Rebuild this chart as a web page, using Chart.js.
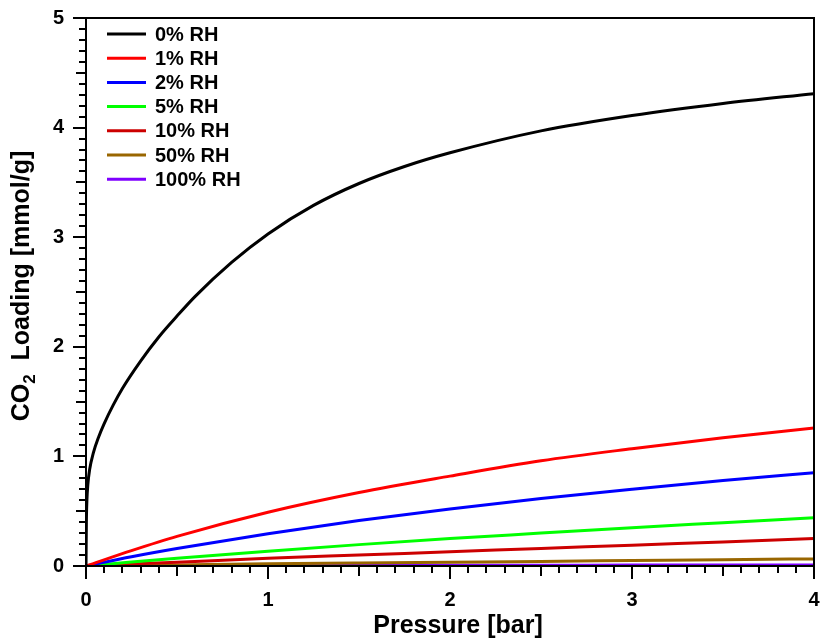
<!DOCTYPE html>
<html>
<head>
<meta charset="utf-8">
<script src="https://cdn.jsdelivr.net/npm/chart.js@4/dist/chart.umd.min.js"></script>
<style>
  html, body { margin: 0; padding: 0; background: #fff; }
  canvas { display: block; }
</style>
</head>
<body>
<canvas id="isotherms" width="820" height="638"></canvas>
<script>
// pressure grid for the dry isotherm (dense near zero where it rises steeply)
const pressDry = [0, 0.002, 0.005, 0.01, 0.02, 0.04, 0.07, 0.1, 0.15, 0.2, 0.3, 0.4, 0.5, 0.6, 0.8, 1.0, 1.25, 1.5, 1.75, 2.0, 2.5, 3.0, 3.5, 4.0];
const rh0 = [0, 0.40, 0.60, 0.74, 0.88, 1.03, 1.18, 1.30, 1.47, 1.62, 1.87, 2.09, 2.28, 2.46, 2.77, 3.03, 3.29, 3.49, 3.645, 3.77, 3.97, 4.11, 4.22, 4.31];

// pressure grid for the humid isotherms
const pressWet = [0, 0.25, 0.5, 1.0, 1.5, 2.0, 2.5, 3.0, 3.5, 4.0];
const rh1 = [0, 0.14, 0.27, 0.49, 0.67, 0.82, 0.96, 1.07, 1.17, 1.26];
const rh2 = [0, 0.085, 0.16, 0.295, 0.415, 0.52, 0.615, 0.70, 0.78, 0.85];
const rh5 = [0, 0.036, 0.07, 0.135, 0.195, 0.25, 0.30, 0.35, 0.395, 0.44];
const rh10 = [0, 0.018, 0.035, 0.07, 0.10, 0.13, 0.16, 0.19, 0.22, 0.25];
const rh50 = [0, 0.005, 0.01, 0.02, 0.028, 0.035, 0.042, 0.05, 0.058, 0.065];
const rh100 = [0, 0.001, 0.002, 0.003, 0.0045, 0.006, 0.007, 0.008, 0.009, 0.01];

const seriesLabels = ['0% RH', '1% RH', '2% RH', '5% RH', '10% RH', '50% RH', '100% RH'];
const seriesColors = ['#000000', '#ff0000', '#0000ff', '#00ff00', '#cc0000', '#996600', '#7f00ff'];

const FONT = '"Liberation Sans", Arial, Helvetica, sans-serif';

function pts(xs, ys) {
  return xs.map((x, i) => ({ x: x, y: ys[i] }));
}

const curves = [
  pts(pressDry, rh0),
  pts(pressWet, rh1),
  pts(pressWet, rh2),
  pts(pressWet, rh5),
  pts(pressWet, rh10),
  pts(pressWet, rh50),
  pts(pressWet, rh100)
];

const datasets = curves.map((d, i) => ({
  label: seriesLabels[i],
  data: d,
  borderColor: seriesColors[i],
  backgroundColor: seriesColors[i],
  borderWidth: 3,
  pointRadius: 0,
  fill: false,
  cubicInterpolationMode: 'monotone'
}));

const isInt = v => Math.abs(v - Math.round(v)) < 1e-6;
const isHalf = v => Math.abs(v * 2 - Math.round(v * 2)) < 1e-6;

// outward tick marks: long at integers, medium at halves, short otherwise
const tickMarks = {
  id: 'tickMarks',
  afterDraw(chart) {
    const ctx = chart.ctx;
    const xs = chart.scales.x, ys = chart.scales.y;
    const len = v => isInt(v) ? 13 : (isHalf(v) ? 10 : 7);
    ctx.save();
    ctx.strokeStyle = '#000';
    ctx.lineWidth = 2;
    ctx.beginPath();
    xs.ticks.forEach(t => {
      const px = Math.round(xs.getPixelForValue(t.value));
      ctx.moveTo(px, xs.top);
      ctx.lineTo(px, xs.top + len(t.value));
    });
    ys.ticks.forEach(t => {
      const py = Math.round(ys.getPixelForValue(t.value));
      ctx.moveTo(ys.right, py);
      ctx.lineTo(ys.right - len(t.value), py);
    });
    ctx.stroke();
    // frame around the plot
    const a = chart.chartArea;
    ctx.strokeRect(a.left, a.top, a.right - a.left, a.bottom - a.top);
    ctx.restore();
  }
};

// axis titles, with the subscript in CO2
const axisTitles = {
  id: 'axisTitles',
  afterDraw(chart) {
    const ctx = chart.ctx;
    const a = chart.chartArea;
    ctx.save();
    ctx.fillStyle = '#000';
    ctx.textBaseline = 'alphabetic';

    ctx.font = 'bold 25px ' + FONT;
    ctx.textAlign = 'center';
    ctx.fillText('Pressure [bar]', (a.left + a.right) / 2 + 8, 633);

    const big = 'bold 25px ' + FONT, small = 'bold 17px ' + FONT;
    const parts = [
      { t: 'CO', f: big, dy: 0 },
      { t: '2', f: small, dy: 6 },
      { t: '  Loading [mmol/g]', f: big, dy: 0 }
    ];
    let total = 0;
    parts.forEach(p => { ctx.font = p.f; p.w = ctx.measureText(p.t).width; total += p.w; });
    ctx.translate(29, (a.top + a.bottom) / 2 - 6);
    ctx.rotate(-Math.PI / 2);
    ctx.textAlign = 'left';
    let x = -total / 2;
    parts.forEach(p => {
      ctx.font = p.f;
      ctx.fillText(p.t, x, p.dy);
      x += p.w;
    });
    ctx.restore();
  }
};

// legend placed inside the upper left corner of the plot
const innerLegend = {
  id: 'innerLegend',
  afterDraw(chart) {
    const ctx = chart.ctx;
    const a = chart.chartArea;
    ctx.save();
    ctx.font = 'bold 20px ' + FONT;
    ctx.textBaseline = 'middle';
    ctx.textAlign = 'left';
    chart.data.datasets.forEach((ds, i) => {
      const y = a.top + 16 + i * 24.2;
      ctx.strokeStyle = ds.borderColor;
      ctx.lineWidth = 3;
      ctx.beginPath();
      ctx.moveTo(a.left + 21, y);
      ctx.lineTo(a.left + 60, y);
      ctx.stroke();
      ctx.fillStyle = '#000';
      ctx.fillText(ds.label, a.left + 69, y + 1);
    });
    ctx.restore();
  }
};

// the hidden tick length sets the gap between axis and labels
const hiddenGrid = {
  drawOnChartArea: false,
  drawTicks: true,
  tickLength: 22,
  tickColor: 'rgba(0,0,0,0)'
};

new Chart(document.getElementById('isotherms'), {
  type: 'line',
  data: { datasets: datasets },
  options: {
    responsive: false,
    devicePixelRatio: 1,
    animation: false,
    layout: { padding: { top: 18, right: 6, left: 0, bottom: 0 } },
    plugins: {
      legend: { display: false },
      tooltip: { enabled: false }
    },
    scales: {
      x: {
        type: 'linear',
        min: 0,
        max: 4,
        grid: hiddenGrid,
        border: { display: false },
        ticks: {
          stepSize: 0.1,
          autoSkip: false,
          maxRotation: 0,
          padding: 0,
          color: '#000',
          font: { family: FONT, size: 20, weight: 'bold' },
          callback: v => isInt(v) ? String(Math.round(v)) : ''
        },
        afterFit: s => { s.height = 72; }
      },
      y: {
        type: 'linear',
        min: 0,
        max: 5,
        grid: hiddenGrid,
        border: { display: false },
        ticks: {
          stepSize: 0.1,
          autoSkip: false,
          padding: 0,
          color: '#000',
          font: { family: FONT, size: 20, weight: 'bold' },
          callback: v => isInt(v) ? String(Math.round(v)) : ''
        },
        afterFit: s => { s.width = 86; }
      }
    }
  },
  plugins: [tickMarks, axisTitles, innerLegend]
});
</script>
</body>
</html>
